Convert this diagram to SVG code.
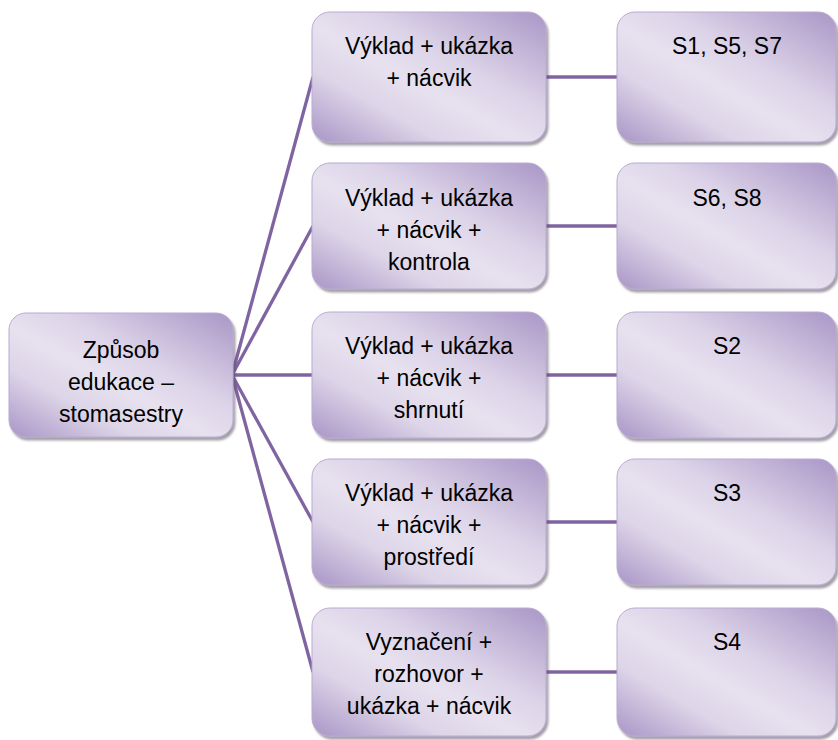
<svg xmlns="http://www.w3.org/2000/svg" width="838" height="740" viewBox="0 0 838 740">
<defs>
<linearGradient id="g" x1="1" y1="0" x2="0" y2="1">
<stop offset="0" stop-color="#a996c6"/>
<stop offset="0.38" stop-color="#dcd3e8"/>
<stop offset="0.55" stop-color="#e7e1ef"/>
<stop offset="0.72" stop-color="#ddd5e8"/>
<stop offset="1" stop-color="#a995c6"/>
</linearGradient>
<filter id="sh" x="-5%" y="-5%" width="115%" height="115%">
<feDropShadow dx="2" dy="3" stdDeviation="1.2" flood-color="#5a5060" flood-opacity="0.55"/>
</filter>
</defs>
<style>
.box{fill:url(#g);stroke:#b9abd2;stroke-width:1;filter:url(#sh)}
.t{font-family:"Liberation Sans",Arial,sans-serif;font-size:23px;fill:#000;text-anchor:middle}
.c{stroke:#8064a2;stroke-width:3.3;fill:none}
</style>
<g id="connectors">
<line class="c" x1="232" y1="375" x2="313" y2="77"/>
<line class="c" x1="232" y1="375" x2="313" y2="226"/>
<line class="c" x1="232" y1="375" x2="313" y2="375"/>
<line class="c" x1="232" y1="375" x2="313" y2="522"/>
<line class="c" x1="232" y1="375" x2="313" y2="672"/>
<line class="c" x1="546" y1="77" x2="618" y2="77"/>
<line class="c" x1="546" y1="226" x2="618" y2="226"/>
<line class="c" x1="546" y1="375" x2="618" y2="375"/>
<line class="c" x1="546" y1="522" x2="618" y2="522"/>
<line class="c" x1="546" y1="672" x2="618" y2="672"/>
</g>
<g id="root">
<rect class="box" x="9" y="313" width="224" height="124" rx="17"/>
<text class="t" x="121" y="358">Způsob</text>
<text class="t" x="121" y="390">edukace –</text>
<text class="t" x="121" y="422">stomasestry</text>
</g>
<g id="m1">
<rect class="box" x="312" y="12" width="234" height="130" rx="18"/>
<text class="t" x="429" y="54">Výklad + ukázka</text>
<text class="t" x="429" y="86">+ nácvik</text>
</g>
<g id="m2">
<rect class="box" x="312" y="163" width="234" height="126" rx="18"/>
<text class="t" x="429" y="206">Výklad + ukázka</text>
<text class="t" x="429" y="238">+ nácvik +</text>
<text class="t" x="429" y="270">kontrola</text>
</g>
<g id="m3">
<rect class="box" x="312" y="312" width="234" height="126" rx="18"/>
<text class="t" x="429" y="354">Výklad + ukázka</text>
<text class="t" x="429" y="386">+ nácvik +</text>
<text class="t" x="429" y="418">shrnutí</text>
</g>
<g id="m4">
<rect class="box" x="312" y="459" width="234" height="126" rx="18"/>
<text class="t" x="429" y="501">Výklad + ukázka</text>
<text class="t" x="429" y="533">+ nácvik +</text>
<text class="t" x="429" y="565">prostředí</text>
</g>
<g id="m5">
<rect class="box" x="312" y="608" width="234" height="128" rx="18"/>
<text class="t" x="429" y="650">Vyznačení +</text>
<text class="t" x="429" y="682">rozhovor +</text>
<text class="t" x="429" y="714">ukázka + nácvik</text>
</g>
<g id="r1">
<rect class="box" x="617" y="12" width="219" height="130" rx="18"/>
<text class="t" x="727" y="54">S1, S5, S7</text>
</g>
<g id="r2">
<rect class="box" x="617" y="163" width="219" height="126" rx="18"/>
<text class="t" x="727" y="206">S6, S8</text>
</g>
<g id="r3">
<rect class="box" x="617" y="312" width="219" height="126" rx="18"/>
<text class="t" x="727" y="354">S2</text>
</g>
<g id="r4">
<rect class="box" x="617" y="459" width="219" height="126" rx="18"/>
<text class="t" x="727" y="501">S3</text>
</g>
<g id="r5">
<rect class="box" x="617" y="608" width="219" height="128" rx="18"/>
<text class="t" x="727" y="650">S4</text>
</g>
</svg>
